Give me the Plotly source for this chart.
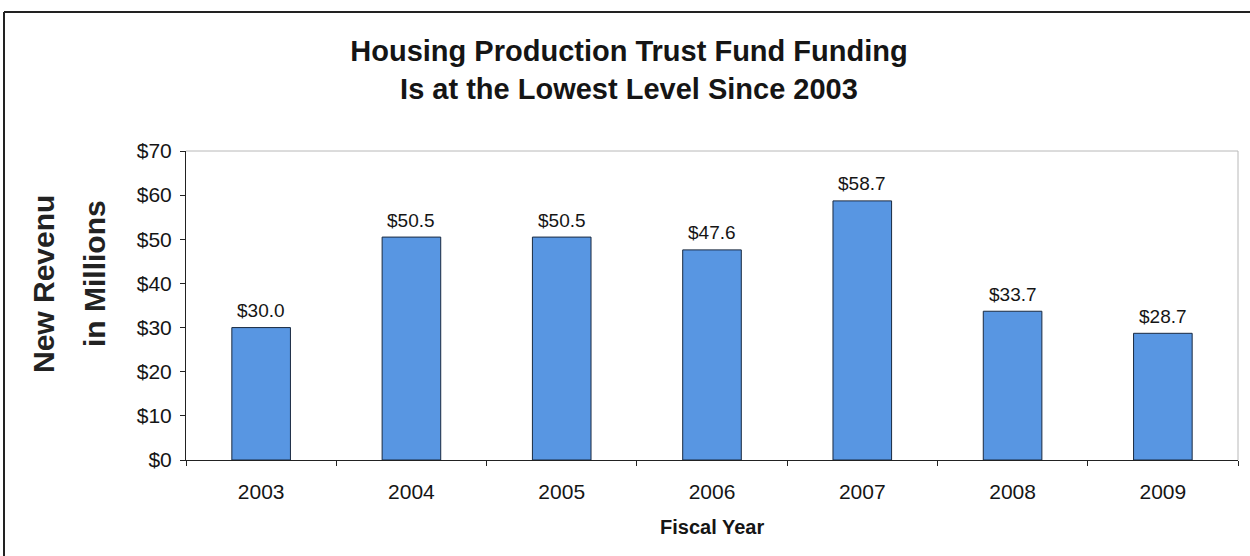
import plotly.graph_objects as go

# Fiscal years and Housing Production Trust Fund new revenue ($ millions)
years = ["2003", "2004", "2005", "2006", "2007", "2008", "2009"]
revenue = [30.0, 50.5, 50.5, 47.6, 58.7, 33.7, 28.7]
y_ticks = [0, 10, 20, 30, 40, 50, 60, 70]
y_tick_labels = ["$" + str(v) for v in y_ticks]

W, H = 1250, 556
L, R, T, B = 186, 12, 151, 96
pw, ph = W - L - R, H - T - B

def px_x(x):
    return (x - L) / pw

def px_y(y):
    return (H - B - y) / ph

font = "Liberation Sans, Arial, sans-serif"
ink = "#151515"

fig = go.Figure(
    go.Bar(
        x=years,
        y=revenue,
        width=0.39,
        marker=dict(color="#5896e2", line=dict(color="#1a2a40", width=1)),
        hoverinfo="x+y",
    )
)

# Value labels above each bar (category axis positions are serial indices)
for i, v in enumerate(revenue):
    fig.add_annotation(x=i, y=v, text="$%.1f" % v, showarrow=False,
                       xanchor="center", yanchor="middle", yshift=17,
                       font=dict(family=font, size=19, color=ink))

fig.update_layout(
    width=W,
    height=H,
    margin=dict(l=L, r=R, t=T, b=B),
    paper_bgcolor="white",
    plot_bgcolor="white",
    showlegend=False,
    font=dict(family=font, color=ink),
    title=dict(
        text="Housing Production Trust Fund Funding<br>Is at the Lowest Level Since 2003",
        x=629 / W,
        xanchor="center",
        y=1 - 61 / H,
        yanchor="middle",
        font=dict(family=font, size=29, color=ink, weight="bold"),
    ),
    xaxis=dict(
        type="category",
        categoryorder="array",
        categoryarray=years,
        range=[-0.5, len(years) - 0.5],
        showline=True,
        linecolor="#222",
        linewidth=1,
        ticks="outside",
        tickson="boundaries",
        ticklen=5,
        tickcolor="#222",
        ticklabelstandoff=13,
        tickangle=0,
        tickfont=dict(family=font, size=21, color=ink),
        showgrid=False,
    ),
    yaxis=dict(
        range=[0, 70],
        tickvals=y_ticks,
        ticktext=y_tick_labels,
        showline=True,
        linecolor="#222",
        linewidth=1,
        ticks="outside",
        ticklen=5,
        tickcolor="#222",
        ticklabelstandoff=4,
        tickfont=dict(family=font, size=21, color=ink),
        showgrid=False,
        zeroline=False,
    ),
)

# Plot-area border on the top and right edges
fig.add_shape(type="line", xref="paper", yref="paper", x0=0, x1=1, y0=1, y1=1,
              line=dict(color="#b8b8b8", width=1))
fig.add_shape(type="line", xref="paper", yref="paper", x0=1, x1=1, y0=0, y1=1,
              line=dict(color="#b8b8b8", width=1))

# Outer frame along the left and top of the chart
fig.add_shape(type="line", xref="paper", yref="paper",
              x0=px_x(4), x1=px_x(W + 5), y0=px_y(12), y1=px_y(12),
              line=dict(color="#222", width=2))
fig.add_shape(type="line", xref="paper", yref="paper",
              x0=px_x(4), x1=px_x(4), y0=px_y(12), y1=px_y(H + 5),
              line=dict(color="#222", width=2))

# X-axis title
fig.add_annotation(text="<b>Fiscal Year</b>", xref="paper", yref="paper",
                   x=px_x(712), y=px_y(527), showarrow=False,
                   xanchor="center", yanchor="middle",
                   font=dict(family=font, size=20, color=ink))

# Two-line rotated y-axis title
fig.add_annotation(text="<b>New Revenu</b>", xref="paper", yref="paper",
                   x=px_x(43), y=px_y(284), textangle=-90, showarrow=False,
                   xanchor="center", yanchor="middle",
                   font=dict(family=font, size=30, color="#222"))
fig.add_annotation(text="<b>in Millions</b>", xref="paper", yref="paper",
                   x=px_x(94), y=px_y(274), textangle=-90, showarrow=False,
                   xanchor="center", yanchor="middle",
                   font=dict(family=font, size=30, color="#222"))

fig.write_html("out.html")
